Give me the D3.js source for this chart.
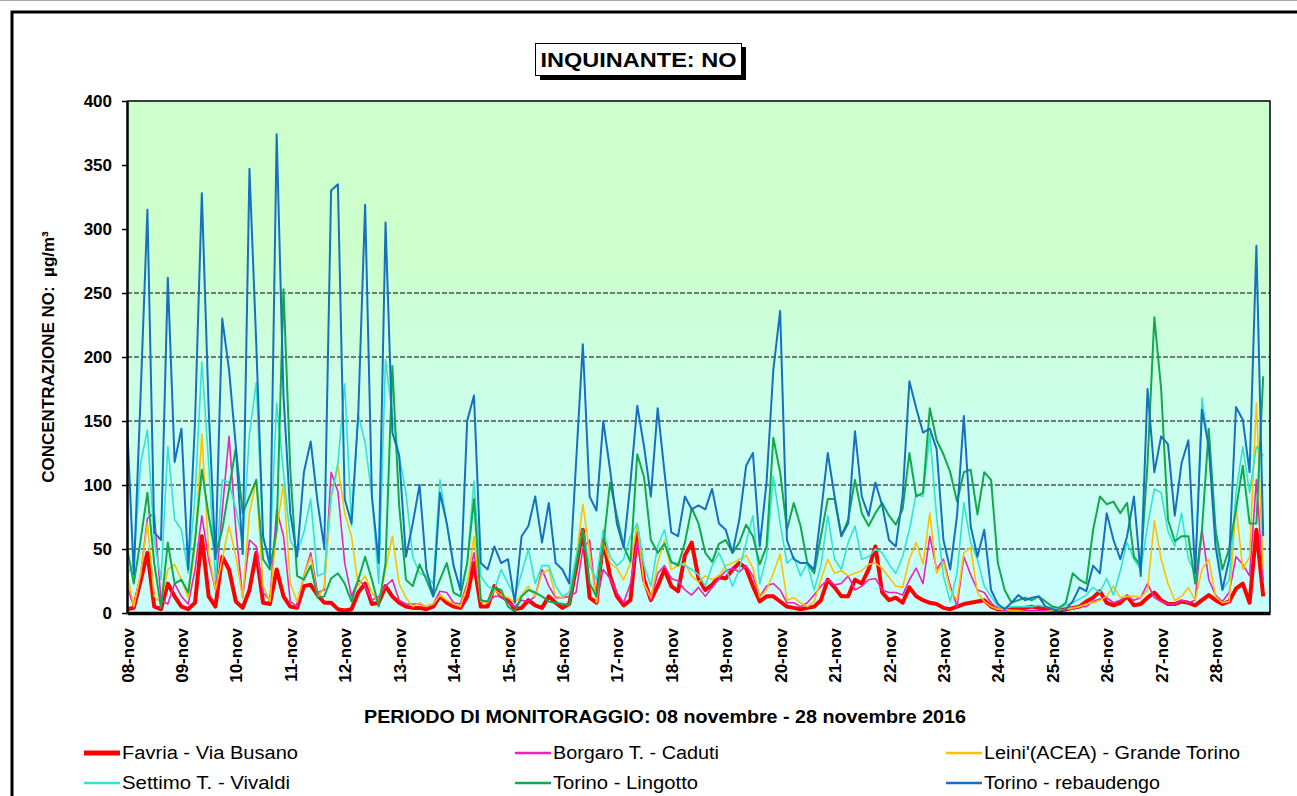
<!DOCTYPE html>
<html>
<head>
<meta charset="utf-8">
<script src="https://cdn.jsdelivr.net/npm/d3@7"></script>
<style>
  body { margin: 0; background: #fff; }
  svg { display: block; font-family: "Liberation Sans", Arial, sans-serif; }
</style>
</head>
<body>
<svg id="chart" width="1297" height="796"></svg>
<script>
// day labels on the x axis (one per day, 08-28 nov 2016)
const dayLabels = ["08-nov", "09-nov", "10-nov", "11-nov", "12-nov", "13-nov", "14-nov",
  "15-nov", "16-nov", "17-nov", "18-nov", "19-nov", "20-nov", "21-nov", "22-nov",
  "23-nov", "24-nov", "25-nov", "26-nov", "27-nov", "28-nov"];
const stepHours = 3;              // one reading every 3 hours, 8 per day
const yTicks = [0, 50, 100, 150, 200, 250, 300, 350, 400];
const gridValues = [50, 100, 150, 200, 250];

const seriesNames = ["Favria - Via Busano", "Borgaro T. - Caduti", "Leini'(ACEA) - Grande Torino",
  "Settimo T. - Vivaldi", "Torino - Lingotto", "Torino - rebaudengo"];

// NO concentrations, µg/m³ (8 values per day)
const favria = [
  3, 4, 25, 47, 5, 3, 23, 13,
  5, 3, 8, 60, 13, 5, 44, 34,
  9, 4, 18, 47, 8, 7, 34, 13,
  5, 4, 21, 22, 14, 8, 8, 3,
  2, 3, 16, 23, 7, 8, 21, 13,
  8, 5, 4, 4, 3, 5, 13, 8,
  5, 4, 13, 39, 5, 5, 21, 13,
  10, 3, 4, 10, 6, 4, 13, 8,
  4, 7, 35, 65, 12, 8, 57, 29,
  13, 6, 10, 63, 26, 10, 21, 34,
  21, 17, 45, 55, 27, 18, 22, 28,
  27, 34, 39, 35, 21, 9, 13, 13,
  9, 5, 4, 3, 4, 5, 10, 26,
  20, 13, 13, 26, 23, 34, 52, 16,
  10, 12, 8, 20, 13, 10, 8, 7,
  4, 3, 5, 7, 8, 9, 10, 5,
  3, 3, 3, 4, 4, 5, 4, 3,
  2, 2, 3, 4, 5, 9, 12, 17,
  8, 6, 8, 13, 6, 7, 12, 16,
  10, 7, 7, 9, 8, 6, 10, 14,
  10, 7, 9, 19, 23, 8, 65, 13
];
const borgaro = [
  21, 5, 29, 74, 78, 10, 7, 23,
  13, 7, 34, 76, 42, 18, 80, 138,
  65, 12, 57, 52, 16, 10, 81, 60,
  9, 5, 29, 47, 16, 18, 110, 95,
  39, 13, 26, 21, 10, 13, 21, 26,
  10, 7, 7, 7, 5, 7, 17, 16,
  8, 7, 23, 47, 10, 8, 13, 13,
  8, 5, 10, 9, 13, 34, 21, 12,
  12, 13, 16, 50, 57, 8, 34, 27,
  16, 8, 23, 56, 23, 10, 31, 37,
  27, 25, 18, 14, 20, 13, 20, 27,
  33, 35, 32, 37, 29, 13, 21, 23,
  18, 8, 8, 5, 8, 14, 21, 26,
  22, 23, 29, 18, 21, 26, 27, 18,
  16, 16, 14, 26, 35, 23, 60, 34,
  42, 21, 5, 44, 30, 18, 16, 8,
  3, 2, 2, 2, 2, 2, 2, 2,
  2, 2, 3, 3, 5, 5, 9, 11,
  12, 8, 10, 13, 10, 12, 23, 12,
  9, 7, 7, 10, 8, 10, 65, 26,
  14, 9, 16, 44, 38, 29, 104, 26
];
const leini = [
  31, 5, 31, 70, 13, 8, 34, 38,
  26, 12, 52, 140, 47, 18, 42, 68,
  44, 12, 78, 104, 21, 9, 65, 101,
  23, 9, 29, 44, 12, 20, 90, 115,
  78, 60, 21, 29, 16, 8, 34, 60,
  23, 12, 5, 8, 5, 7, 14, 10,
  7, 5, 21, 60, 9, 8, 18, 14,
  12, 8, 14, 21, 13, 31, 34, 13,
  12, 16, 42, 85, 47, 8, 55, 39,
  35, 26, 39, 69, 23, 12, 39, 57,
  34, 37, 39, 29, 24, 29, 26, 29,
  37, 39, 42, 45, 35, 12, 18, 31,
  46, 10, 12, 8, 5, 9, 26, 42,
  31, 33, 29, 31, 33, 38, 39, 35,
  28, 21, 20, 42, 55, 38, 78, 31,
  40, 18, 10, 47, 51, 16, 9, 5,
  3, 3, 2, 2, 1, 1, 1, 1,
  2, 2, 3, 4, 5, 7, 8, 10,
  13, 21, 12, 13, 13, 12, 18, 72,
  42, 23, 10, 13, 20, 10, 34, 42,
  13, 8, 9, 84, 34, 44, 164, 34
];
const settimo = [
  30, 39, 117, 143, 57, 26, 130, 73,
  65, 31, 91, 196, 117, 26, 104, 102,
  81, 55, 140, 180, 57, 44, 164, 110,
  57, 47, 63, 89, 29, 31, 91, 117,
  179, 68, 155, 133, 91, 23, 198, 154,
  123, 94, 44, 31, 29, 23, 104, 70,
  37, 18, 39, 103, 29, 21, 18, 34,
  23, 13, 31, 50, 23, 37, 37, 21,
  13, 16, 44, 65, 37, 26, 65, 44,
  37, 42, 60, 70, 37, 21, 52, 65,
  39, 39, 37, 34, 30, 21, 37, 47,
  35, 21, 34, 55, 76, 23, 44, 107,
  70, 39, 44, 29, 39, 18, 37, 76,
  42, 34, 55, 68, 42, 44, 50, 47,
  38, 31, 44, 65, 93, 91, 140, 75,
  29, 9, 31, 86, 55, 42, 21, 13,
  5, 4, 5, 5, 5, 5, 6, 5,
  4, 4, 6, 8, 11, 14, 20, 16,
  27, 14, 33, 55, 42, 34, 68, 97,
  94, 64, 52, 78, 42, 31, 168, 130,
  65, 18, 26, 94, 130, 94, 130, 123
];
const lingotto = [
  51, 23, 57, 94, 39, 4, 55, 23,
  26, 16, 57, 112, 76, 45, 65, 97,
  129, 78, 91, 104, 42, 34, 65, 253,
  112, 29, 26, 37, 12, 13, 27, 31,
  23, 9, 26, 44, 26, 5, 39, 193,
  84, 26, 21, 38, 26, 13, 26, 39,
  16, 13, 39, 89, 10, 9, 20, 18,
  5, 1, 13, 18, 16, 13, 9, 8,
  7, 6, 37, 65, 23, 13, 52, 102,
  76, 52, 40, 124, 106, 57, 47, 54,
  40, 37, 55, 82, 70, 47, 40, 54,
  57, 47, 55, 69, 60, 38, 52, 137,
  110, 65, 86, 68, 39, 31, 60, 89,
  89, 60, 73, 104, 78, 68, 78, 86,
  76, 69, 81, 125, 91, 94, 160, 135,
  124, 110, 87, 110, 112, 77, 110, 104,
  39, 18, 8, 10, 12, 10, 13, 9,
  5, 4, 8, 31, 26, 23, 65, 91,
  85, 87, 78, 86, 44, 37, 117, 231,
  175, 73, 56, 60, 60, 23, 65, 144,
  65, 34, 50, 81, 115, 70, 70, 185
];
const rebaudengo = [
  149, 30, 170, 315, 63, 57, 262, 118,
  144, 34, 150, 328, 160, 42, 230, 190,
  130, 46, 347, 210, 60, 37, 374, 170,
  78, 44, 110, 134, 87, 51, 330, 335,
  89, 70, 157, 319, 91, 39, 305, 141,
  123, 44, 70, 100, 34, 13, 94, 70,
  37, 18, 150, 170, 39, 34, 52, 39,
  42, 8, 60, 68, 91, 55, 86, 39,
  34, 23, 117, 210, 91, 80, 150, 112,
  70, 51, 102, 162, 130, 91, 160, 110,
  63, 60, 91, 81, 84, 81, 97, 70,
  65, 47, 73, 115, 125, 52, 102, 190,
  236, 57, 42, 39, 39, 34, 78, 125,
  91, 60, 70, 142, 91, 76, 102, 84,
  57, 52, 91, 181, 160, 141, 144, 128,
  57, 34, 76, 154, 68, 44, 65, 18,
  7, 3, 8, 14, 10, 12, 13, 5,
  3, 1, 3, 9, 20, 17, 37, 31,
  78, 57, 42, 60, 91, 29, 175, 110,
  138, 132, 76, 117, 135, 31, 159, 130,
  52, 18, 42, 161, 151, 110, 287, 60
];

const seriesValues = [favria, borgaro, leini, settimo, lingotto, rebaudengo];
const colors = ["#ff0000", "#ee22bb", "#ffc000", "#33e3d2", "#12a84e", "#1670c0"];
const widths = [4, 1.6, 1.6, 1.6, 2, 2];

const plot = { left: 127, right: 1270, top: 101, bottom: 613 };
const svg = d3.select("#chart");

// frame round the whole chart
svg.append("line").attr("x1", 0).attr("x2", 1297).attr("y1", 0.5).attr("y2", 0.5)
  .attr("stroke", "#aaa").attr("stroke-width", 1);
svg.append("rect").attr("x", 12).attr("y", 12).attr("width", 1320).attr("height", 820)
  .attr("fill", "none").attr("stroke", "#000").attr("stroke-width", 3);

const x = d3.scaleLinear().domain([0, dayLabels.length * 24]).range([plot.left, plot.right]);
const y = d3.scaleLinear().domain([0, 400]).range([plot.bottom, plot.top]);

// background gradient
const grad = svg.append("defs").append("linearGradient")
  .attr("id", "bg").attr("x1", 0).attr("y1", 0).attr("x2", 0).attr("y2", 1);
grad.append("stop").attr("offset", "0").attr("stop-color", "#ccffcc");
grad.append("stop").attr("offset", "0.3").attr("stop-color", "#ccffcc");
grad.append("stop").attr("offset", "0.62").attr("stop-color", "#ccffec");
grad.append("stop").attr("offset", "1").attr("stop-color", "#c8fffd");
svg.select("defs").append("clipPath").attr("id", "clip")
  .append("rect").attr("x", plot.left).attr("y", plot.top)
  .attr("width", plot.right - plot.left).attr("height", plot.bottom - plot.top);

svg.append("rect")
  .attr("x", plot.left).attr("y", plot.top)
  .attr("width", plot.right - plot.left).attr("height", plot.bottom - plot.top)
  .attr("fill", "url(#bg)");

// dashed grid
svg.append("g").selectAll("line").data(gridValues).enter().append("line")
  .attr("x1", plot.left).attr("x2", plot.right)
  .attr("y1", d => y(d)).attr("y2", d => y(d))
  .attr("stroke", "#000").attr("stroke-width", 1)
  .attr("stroke-dasharray", "5,2");

// top and right border of plot
svg.append("path")
  .attr("d", `M${plot.left},${plot.top}H${plot.right}V${plot.bottom}`)
  .attr("fill", "none").attr("stroke", "#000").attr("stroke-width", 1.5);

// series lines
const line = d3.line()
  .x((d, i) => x(i * stepHours))
  .y(d => y(d));

svg.append("g").attr("clip-path", "url(#clip)")
  .selectAll("path").data(seriesValues).enter().append("path")
  .attr("d", d => line(d))
  .attr("fill", "none")
  .attr("stroke", (d, i) => colors[i])
  .attr("stroke-width", (d, i) => widths[i])
  .attr("stroke-linejoin", "round");

// y axis
const yAxis = svg.append("g")
  .attr("transform", `translate(${plot.left},0)`)
  .call(d3.axisLeft(y).tickValues(yTicks).tickSize(5).tickSizeOuter(0).tickPadding(10));
yAxis.select(".domain").attr("stroke-width", 2.5);
yAxis.selectAll(".tick line").attr("stroke-width", 1.5);
yAxis.selectAll("text")
  .style("font-family", "'Liberation Sans', Arial, sans-serif")
  .style("font-size", "17px").style("font-weight", "bold").attr("fill", "#000");

// x axis
const xAxis = svg.append("g")
  .attr("transform", `translate(0,${plot.bottom})`)
  .call(d3.axisBottom(x)
    .tickValues(dayLabels.map((d, i) => i * 24))
    .tickFormat((d, i) => dayLabels[i])
    .tickSize(0).tickSizeOuter(0));
xAxis.select(".domain").attr("stroke-width", 3.5);
xAxis.selectAll("text")
  .attr("transform", "rotate(-90)")
  .attr("x", -15).attr("y", 0).attr("dy", "0.36em")
  .style("text-anchor", "end")
  .style("font-family", "'Liberation Sans', Arial, sans-serif")
  .style("font-size", "17px").style("font-weight", "bold").attr("fill", "#000");

// y axis title
svg.append("text")
  .attr("transform", `translate(54,${(plot.top + plot.bottom) / 2}) rotate(-90)`)
  .attr("text-anchor", "middle")
  .style("white-space", "pre")
  .style("font-size", "17px").style("font-weight", "bold")
  .text("CONCENTRAZIONE NO:  µg/m³");

// x axis title
svg.append("text")
  .attr("x", 665).attr("y", 723)
  .attr("text-anchor", "middle")
  .attr("textLength", 602).attr("lengthAdjust", "spacingAndGlyphs")
  .style("font-size", "18px").style("font-weight", "bold")
  .text("PERIODO DI MONITORAGGIO: 08 novembre - 28 novembre 2016");

// chart title in a shadowed box
svg.append("rect").attr("x", 540).attr("y", 47).attr("width", 206).attr("height", 33).attr("fill", "#000");
svg.append("rect").attr("x", 535.5).attr("y", 43.5).attr("width", 206).attr("height", 32)
  .attr("fill", "#fff").attr("stroke", "#000").attr("stroke-width", 1);
svg.append("text")
  .attr("x", 638.5).attr("y", 67)
  .attr("text-anchor", "middle")
  .attr("textLength", 196).attr("lengthAdjust", "spacingAndGlyphs")
  .style("font-size", "20px").style("font-weight", "bold")
  .text("INQUINANTE: NO");

// legend
const legendCols = [84, 515, 946];
const legendRows = [753, 783];
const legendTextLen = [176, 166, 256, 168, 145, 176];
const legend = svg.append("g").selectAll("g").data(seriesNames).enter().append("g")
  .attr("transform", (d, i) => `translate(${legendCols[i % 3]},${legendRows[Math.floor(i / 3)]})`);
legend.append("line")
  .attr("x1", 0).attr("x2", 36).attr("y1", 0).attr("y2", 0)
  .attr("stroke", (d, i) => colors[i])
  .attr("stroke-width", (d, i) => i === 0 ? 5 : 2.5);
legend.append("text")
  .attr("x", 38).attr("y", 0).attr("dy", "0.36em")
  .attr("textLength", (d, i) => legendTextLen[i]).attr("lengthAdjust", "spacingAndGlyphs")
  .style("font-size", "18px")
  .text(d => d);
</script>
</body>
</html>
